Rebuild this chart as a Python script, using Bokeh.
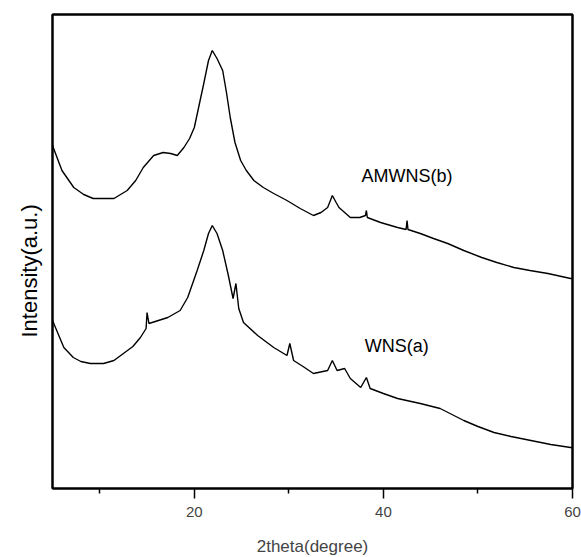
from bokeh.plotting import figure
from bokeh.models import FixedTicker, Range1d, Label, LinearAxis, Title
from bokeh.embed import file_html
from bokeh.resources import INLINE

# 2theta (degree) and intensity (a.u.)
theta_b = [5.0, 6.0, 7.25, 8.3, 9.3, 10.4, 11.5, 12.9, 13.8, 14.6,
           15.7, 16.7, 17.5, 18.2, 18.9, 19.5, 20.0, 20.5, 21.0, 21.5,
           21.9, 22.4, 23.0, 23.4, 23.8, 24.3, 24.9, 25.5, 26.3, 27.3,
           28.4, 29.8, 31.2, 32.6, 33.4, 34.1, 34.6, 35.0, 35.3, 36.5,
           37.5, 38.1, 38.2, 38.3, 39.7, 41.5, 42.4, 42.5, 42.6, 43.9,
           45.3, 46.8, 48.5, 50.4, 52.0, 53.8, 55.5, 57.4, 59.8, 60.0]
amwns_b = [343, 318, 301, 294, 290, 290, 290, 298, 308, 321,
           333, 336, 335, 333, 341, 350, 361, 383, 405, 428,
           438, 430, 418, 396, 371, 346, 328, 318, 308, 301,
           295, 288, 280, 273, 276, 281, 293, 286, 281, 271,
           271, 273, 278, 271, 266, 261, 259, 268, 259, 255,
           250, 245, 238, 231, 226, 221, 218, 215, 210, 210]

theta_a = [5.0, 6.2, 7.2, 8.0, 9.0, 10.4, 11.5, 12.5, 13.5, 14.3,
           14.9, 15.0, 15.2, 16.2, 17.2, 18.5, 19.3, 20.3, 21.0, 21.5,
           21.9, 22.4, 23.0, 23.6, 24.1, 24.4, 24.7, 25.2, 26.7, 28.4,
           29.8, 30.1, 30.5, 31.5, 32.6, 34.1, 34.6, 35.1, 35.9, 36.5,
           37.6, 38.2, 38.6, 40.0, 41.5, 43.9, 46.0, 48.5, 50.0, 51.7,
           53.5, 55.6, 57.7, 59.8, 60.0]
wns_a = [168, 141, 131, 127, 125, 125, 128, 135, 142, 151,
         160, 176, 165, 168, 171, 178, 191, 218, 238, 255,
         263, 255, 238, 213, 190, 205, 180, 166, 153, 141,
         133, 145, 128, 122, 115, 118, 128, 118, 120, 110,
         101, 111, 100, 95, 90, 85, 80, 68, 62, 56,
         52, 48, 44, 41, 41]

x_major = [20, 40, 60]
x_minor = [10, 30, 50]
labels = ["AMWNS(b)", "WNS(a)"]
label_x = [42.5, 41.4]
label_y = [313, 143]

FONT = "Liberation Sans"

p = figure(frame_width=520, frame_height=474,
           min_border_left=52, min_border_right=9,
           min_border_top=14, min_border_bottom=66,
           x_range=Range1d(5, 60), y_range=Range1d(0, 474),
           output_backend="svg", toolbar_location=None,
           background_fill_color="white", border_fill_color="white")

p.line(theta_b, amwns_b, line_color="black", line_width=1.4)
p.line(theta_a, wns_a, line_color="black", line_width=1.4)

for t, lx, ly in zip(labels, label_x, label_y):
    p.add_layout(Label(x=lx, y=ly, text=t, text_align="center",
                       text_baseline="middle", text_font=FONT,
                       text_font_size="18px", text_color="black"))

p.xgrid.visible = False
p.ygrid.visible = False
p.outline_line_color = "black"
p.outline_line_width = 2

xa = p.xaxis[0]
xa.ticker = FixedTicker(ticks=x_major, minor_ticks=x_minor)
xa.axis_line_width = 2
xa.major_tick_line_width = 1.5
xa.minor_tick_line_width = 1.5
xa.major_tick_out = 10
xa.major_tick_in = 0
xa.minor_tick_out = 5
xa.minor_tick_in = 0
xa.major_label_text_font = FONT
xa.major_label_text_font_size = "15px"
xa.major_label_standoff = 8
xa.axis_label = "2theta(degree)"
xa.axis_label_text_font = FONT
xa.axis_label_text_font_size = "17px"
xa.axis_label_text_font_style = "normal"
xa.axis_label_standoff = 17

ya = p.yaxis[0]
ya.ticker = FixedTicker(ticks=[])
ya.axis_line_width = 2
ya.major_tick_out = 0
ya.minor_tick_out = 0
ya.major_label_text_font_size = "0px"

ytitle = Title(text="Intensity(a.u.)", align="left", offset=151,
               text_font=FONT, text_font_size="22px",
               text_font_style="normal", text_color="black",
               standoff=22)
p.add_layout(ytitle, "left")

for side in ("above", "right"):
    ax = LinearAxis(ticker=FixedTicker(ticks=[]), axis_line_width=2,
                    major_tick_out=0, major_tick_in=0,
                    minor_tick_out=0, minor_tick_in=0,
                    major_label_text_font_size="0px")
    p.add_layout(ax, side)

open("out.html", "w").write(file_html(p, INLINE))
